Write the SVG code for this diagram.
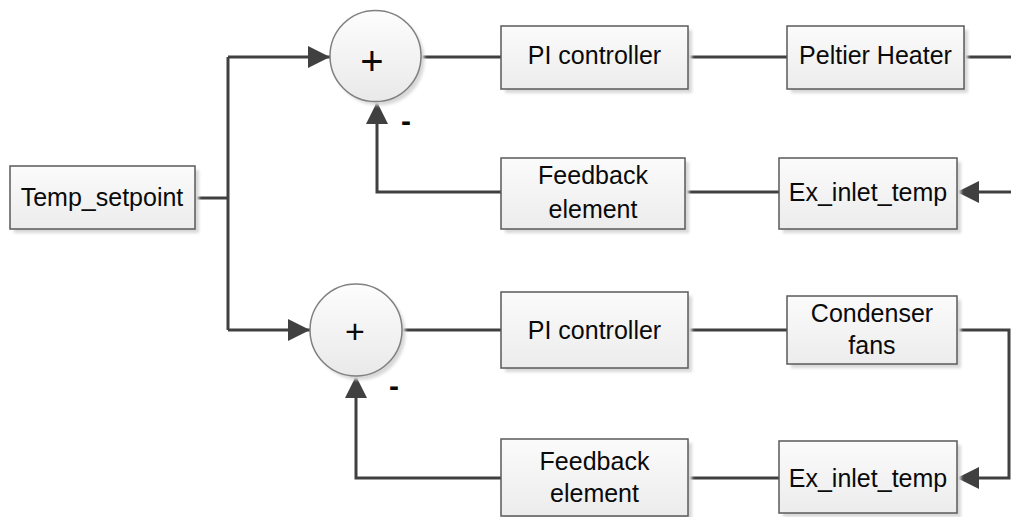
<svg xmlns="http://www.w3.org/2000/svg" width="1011" height="517" viewBox="0 0 1011 517">
<defs>
<linearGradient id="boxg" x1="0" y1="0" x2="0" y2="1">
<stop offset="0" stop-color="#fbfbfb"/><stop offset="1" stop-color="#ececec"/>
</linearGradient>
<linearGradient id="circg" x1="0" y1="0" x2="0" y2="1">
<stop offset="0" stop-color="#fdfdfd"/><stop offset="1" stop-color="#e9e9e9"/>
</linearGradient>
<filter id="sh" x="-10%" y="-10%" width="130%" height="140%">
<feGaussianBlur stdDeviation="1.5"/>
</filter>
<marker id="arr" markerUnits="userSpaceOnUse" markerWidth="24" markerHeight="24" refX="22" refY="11" orient="auto">
<path d="M0,0 L22,11 L0,22 z" fill="#404040"/>
</marker>
</defs>
<style>
.box{fill:url(#boxg);stroke:#5a5a5a;stroke-width:1.5}
.sum{fill:url(#circg);stroke:#808080;stroke-width:1.5}
.shadow{fill:#d8d8d8;filter:url(#sh)}
.lbl{font-family:"Liberation Sans",Arial,sans-serif;font-size:25px;fill:#0a0a0a;text-anchor:middle}
.sign{font-family:"Liberation Sans",Arial,sans-serif;fill:#0a0a0a;text-anchor:middle}
.c{fill:none;stroke:#404040;stroke-width:3}
.a{marker-end:url(#arr)}
</style>

<g id="connectors">
<path class="c" d="M195,198 H228 M228,57 V330"/>
<path class="c a" d="M228,57 H330"/>
<path class="c a" d="M228,330 H310"/>
<path class="c" d="M421,57 H501"/>
<path class="c" d="M688,57 H787"/>
<path class="c" d="M964,57 H1011"/>
<path class="c a" d="M1011,192 H957"/>
<path class="c" d="M779,192 H685"/>
<path class="c a" d="M501,192 H377 V102"/>
<path class="c" d="M402,330 H501"/>
<path class="c" d="M688,330 H787"/>
<path class="c a" d="M957,330 H1009 V478 H957"/>
<path class="c" d="M779,478 H688"/>
<path class="c a" d="M501,478 H356 V376"/>
</g>

<g id="temp_setpoint">
<rect class="shadow" x="14" y="170" width="185" height="63"/>
<rect class="box" x="10" y="166" width="185" height="63"/>
<text class="lbl" x="102" y="206">Temp_setpoint</text>
</g>

<g id="sum_top">
<circle class="shadow" cx="379" cy="60" r="45.5"/>
<circle class="sum" cx="375.5" cy="56" r="45.5"/>
<text class="sign" x="372" y="75" font-size="40">+</text>
<text class="sign" x="406" y="131" font-size="30" font-weight="bold">-</text>
</g>

<g id="pi_top">
<rect class="shadow" x="505" y="30" width="187" height="63"/>
<rect class="box" x="501" y="26" width="187" height="63"/>
<text class="lbl" x="594.5" y="64">PI controller</text>
</g>

<g id="peltier">
<rect class="shadow" x="791" y="30" width="177" height="63"/>
<rect class="box" x="787" y="26" width="177" height="63"/>
<text class="lbl" x="875.5" y="64">Peltier Heater</text>
</g>

<g id="feedback_top">
<rect class="shadow" x="505" y="162" width="184" height="71"/>
<rect class="box" x="501" y="158" width="184" height="71"/>
<text class="lbl" x="593" y="184">Feedback</text>
<text class="lbl" x="593" y="218">element</text>
</g>

<g id="ex_inlet_top">
<rect class="shadow" x="783" y="162" width="178" height="71"/>
<rect class="box" x="779" y="158" width="178" height="71"/>
<text class="lbl" x="868" y="201">Ex_inlet_temp</text>
</g>

<g id="sum_bottom">
<circle class="shadow" cx="359.5" cy="334" r="46"/>
<circle class="sum" cx="356" cy="330" r="46"/>
<text class="sign" x="355" y="343" font-size="34">+</text>
<text class="sign" x="394" y="396" font-size="30" font-weight="bold">-</text>
</g>

<g id="pi_bottom">
<rect class="shadow" x="505" y="296" width="187" height="76"/>
<rect class="box" x="501" y="292" width="187" height="76"/>
<text class="lbl" x="594.5" y="339">PI controller</text>
</g>

<g id="condenser">
<rect class="shadow" x="791" y="300" width="170" height="68"/>
<rect class="box" x="787" y="296" width="170" height="68"/>
<text class="lbl" x="872" y="322">Condenser</text>
<text class="lbl" x="872" y="354">fans</text>
</g>

<g id="feedback_bottom">
<rect class="shadow" x="505" y="443" width="187" height="77"/>
<rect class="box" x="501" y="439" width="187" height="77"/>
<text class="lbl" x="594.5" y="470">Feedback</text>
<text class="lbl" x="594.5" y="502">element</text>
</g>

<g id="ex_inlet_bottom">
<rect class="shadow" x="783" y="445" width="178" height="72"/>
<rect class="box" x="779" y="441" width="178" height="72"/>
<text class="lbl" x="868" y="487">Ex_inlet_temp</text>
</g>
</svg>
